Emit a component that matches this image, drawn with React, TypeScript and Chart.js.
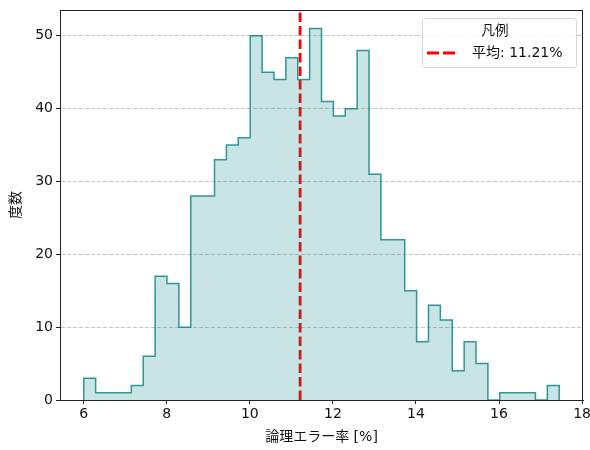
import React, { useEffect, useRef } from "react";
import { Chart, registerables } from "chart.js";

Chart.register(...registerables);

const binStart = 6.0;
const binWidth = 0.28625;
const counts = [
  3, 1, 1, 1, 2, 6, 17, 16, 10, 28,
  28, 33, 35, 36, 50, 45, 44, 47, 44, 51,
  41, 39, 40, 48, 31, 22, 22, 15, 8, 13,
  11, 4, 8, 5, 0, 1, 1, 1, 0, 2,
];
const meanValue = 11.21;
const xTicks = [6, 8, 10, 12, 14, 16, 18];
const yTicks = [0, 10, 20, 30, 40, 50];
const xLabel = "論理エラー率 [%]";
const yLabel = "度数";
const legendTitle = "凡例";
const meanLabel = "平均: 11.21%";

const FONT = '"DejaVu Sans", "Noto Sans CJK JP", sans-serif';
const DASH = [9.5, 4];

export default function App() {
  const ref = useRef<HTMLCanvasElement | null>(null);

  useEffect(() => {
    const canvas = ref.current;
    if (!canvas) return;

    const edges = counts.map((_, i) => binStart + i * binWidth);
    const binEnd = binStart + counts.length * binWidth;
    const histPts: { x: number; y: number }[] = [{ x: binStart, y: 0 }];
    counts.forEach((c, i) => histPts.push({ x: edges[i], y: c }));
    histPts.push({ x: binEnd, y: counts[counts.length - 1] });
    histPts.push({ x: binEnd, y: 0 });

    const xMin = binStart - 0.05 * (binEnd - binStart);
    const xMax = binEnd + 0.05 * (binEnd - binStart);
    const yMax = Math.max(...counts) * 1.05;

    const framePlugin = {
      id: "frame",
      afterDraw(chart: any) {
        const { ctx, chartArea: a } = chart;
        ctx.save();
        ctx.strokeStyle = "#222";
        ctx.lineWidth = 1;
        ctx.strokeRect(a.left + 0.5, a.top + 0.5, a.right - a.left - 1, a.bottom - a.top);
        // legend
        const bx = a.right - 161;
        const by = a.top + 8;
        const bw = 154;
        const bh = 49;
        ctx.fillStyle = "rgba(255,255,255,0.85)";
        ctx.strokeStyle = "#d6d6d6";
        ctx.lineWidth = 1;
        ctx.beginPath();
        (ctx as any).roundRect(bx + 0.5, by + 0.5, bw, bh, 3);
        ctx.fill();
        ctx.stroke();
        ctx.fillStyle = "#111";
        ctx.font = `13.5px ${FONT}`;
        ctx.textAlign = "center";
        ctx.textBaseline = "middle";
        ctx.fillText(legendTitle, bx + 73, by + 13);
        ctx.strokeStyle = "red";
        ctx.lineWidth = 2.8;
        ctx.setLineDash([12, 4]);
        ctx.beginPath();
        ctx.moveTo(bx + 5, by + 35);
        ctx.lineTo(bx + 33, by + 35);
        ctx.stroke();
        ctx.setLineDash([]);
        ctx.textAlign = "left";
        ctx.font = `14px ${FONT}`;
        ctx.fillText(meanLabel, bx + 50, by + 35);
        ctx.restore();
      },
    };

    const chart = new Chart(canvas, {
      type: "line",
      data: {
        datasets: [
          {
            label: "hist",
            data: histPts,
            stepped: "before",
            borderColor: "rgba(0,128,128,0.8)",
            backgroundColor: "rgba(0,128,128,0.21)",
            borderWidth: 1.5,
            pointRadius: 0,
            fill: "origin",
          },
          {
            label: meanLabel,
            data: [
              { x: meanValue, y: 0 },
              { x: meanValue, y: yMax },
            ],
            borderColor: "red",
            borderWidth: 2.8,
            borderDash: DASH,
            pointRadius: 0,
            fill: false,
          },
        ],
      },
      options: {
        responsive: false,
        animation: false,
        layout: { padding: { top: 10, right: 7, left: 8, bottom: 4 } },
        plugins: {
          legend: { display: false },
          tooltip: { enabled: false },
        },
        scales: {
          x: {
            type: "linear",
            min: xMin,
            max: xMax,
            afterBuildTicks: (s: any) => {
              s.ticks = xTicks.map((v) => ({ value: v }));
            },
            afterFit: (s: any) => {
              s.height = 46;
              s.paddingLeft = 0;
              s.paddingRight = 0;
            },
            ticks: {
              color: "#111",
              font: { family: FONT, size: 14 },
              padding: 2,
              maxRotation: 0,
              callback: (v: any) => String(v),
            },
            grid: {
              drawOnChartArea: false,
              tickLength: 4,
              tickColor: "#222",
            },
            border: { color: "#222" },
            title: {
              display: true,
              text: xLabel,
              color: "#111",
              font: { family: FONT, size: 14 },
              padding: { top: 2, bottom: 0 },
            },
          },
          y: {
            type: "linear",
            min: 0,
            max: yMax,
            afterBuildTicks: (s: any) => {
              s.ticks = yTicks.map((v) => ({ value: v }));
            },
            afterFit: (s: any) => {
              s.width = 52;
              s.paddingTop = 0;
              s.paddingBottom = 0;
            },
            ticks: {
              color: "#111",
              font: { family: FONT, size: 14 },
              padding: 3,
              callback: (v: any) => String(v),
            },
            grid: {
              color: "rgba(176,176,176,0.75)",
              tickLength: 4,
              tickColor: "#222",
              tickBorderDash: [],
            } as any,
            border: { color: "#222", dash: [4, 2] },
            title: {
              display: true,
              text: yLabel,
              color: "#111",
              font: { family: FONT, size: 14 },
              padding: { top: 0, bottom: 4 },
            },
          },
        },
      } as any,
      plugins: [framePlugin],
    });

    return () => chart.destroy();
  }, []);

  return (
    <div style={{ position: "absolute", left: 0, top: 0, width: 590, height: 450 }}>
      <canvas ref={ref} width={590} height={450} />
    </div>
  );
}
